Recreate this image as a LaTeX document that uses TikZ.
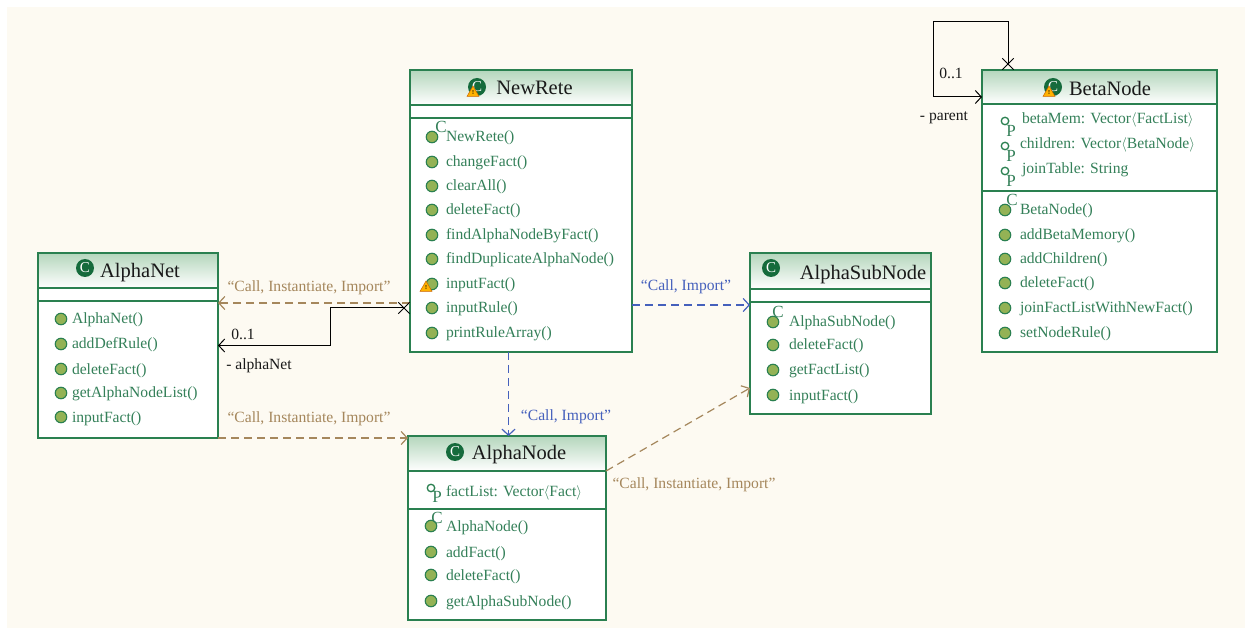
\documentclass[tikz,border=0pt]{standalone}
\usepackage{fontspec}
\setmainfont{Liberation Serif}
\usetikzlibrary{positioning,arrows.meta,shapes.geometric}

\definecolor{cream}{HTML}{FDFAF2}
\definecolor{boxgreen}{HTML}{2A8050}
\definecolor{textgreen}{HTML}{348059}
\definecolor{dotgreen}{HTML}{93B255}
\definecolor{headgreen}{HTML}{B4D6BC}
\definecolor{icongreen}{HTML}{156B3C}
\definecolor{tanline}{HTML}{A5875C}
\definecolor{blueline}{HTML}{4560BC}

\begin{document}
\begin{tikzpicture}[x=1pt, y=-1pt,
  nodes = {inner sep=0pt, outer sep=0pt},
  classbox/.style = {draw=boxgreen, line width=1.3pt, fill=white, anchor=north west},
  headbox/.style = {draw=boxgreen, line width=1.3pt, anchor=north west,
    top color=headgreen, bottom color=white},
  title/.style = {font=\fontsize{20.5}{24}\selectfont, text=black!90},
  member/.style = {anchor=west, font=\fontsize{15.6}{17}\selectfont, text=textgreen,
    text height=10pt, text depth=0pt},
  dot/.style = {circle, draw=boxgreen, line width=1.1pt, fill=dotgreen, minimum size=11.5pt},
  fielddot/.style = {circle, draw=boxgreen, line width=1.3pt, fill=white, minimum size=7.5pt},
  sup/.style = {font=\fontsize{17}{18}\selectfont, text=textgreen},
  iconc/.style = {circle, fill=icongreen, text=white, minimum size=18pt,
    font=\fontsize{15}{15}\selectfont},
  warn/.style = {regular polygon, regular polygon sides=3, draw=orange!80!black, line width=.5pt,
    fill=orange!60!yellow, minimum size=14pt, font=\fontsize{6}{6}\selectfont\bfseries},
  sepline/.style = {draw=boxgreen, line width=1.3pt},
  lab/.style = {font=\fontsize{15.6}{17}\selectfont},
  tanlab/.style = {lab, text=tanline},
  bluelab/.style = {lab, text=blueline},
  blacklab/.style = {lab, text=black!90},
  tandep/.style = {draw=tanline, line width=1.2pt, dash pattern=on 8pt off 5pt,
    -{Straight Barb[length=6pt,width=13pt]}},
  bluedep/.style = {draw=blueline, line width=1.2pt, dash pattern=on 8pt off 5pt,
    -{Straight Barb[length=6pt,width=13pt]}},
  assoc/.style = {draw=black, line width=1pt,
    {Rays[n=4,length=16pt,width=16pt]}-{Straight Barb[length=6pt,width=13pt]}}
  ]
  \useasboundingbox (0,0) rectangle (1251,628);
  \fill [cream] (7,7) rectangle (1245,628);

  % NewRete
  \node (rete) [classbox, minimum width=222pt, minimum height=282pt] at (410,70) {};
  \node (reteHead) [headbox, minimum width=222pt, minimum height=35pt] at (410,70) {};
  \draw [sepline] (410,118) -- (632,118);
  \node (reteIcon) [iconc] at (477,87) {C};
  \node (reteWarn) [warn] at (473,93) {!};
  \node (reteName) [title] at (534.5,88) {NewRete};
  \foreach \y/\txt in {137/NewRete(),162/changeFact(),186/clearAll(),210/deleteFact(),
      235/findAlphaNodeByFact(),259/findDuplicateAlphaNode(),284/inputFact(),
      308/inputRule(),333/printRuleArray()} {
    \node (reteDot\y) [dot] at (432,\y) {};
    \node (reteTxt\y) [member] at (446,\y) {\txt};
  }
  \node (reteCtor) [sup] at (441,127) {C};
  \node (inputWarn) [warn] at (426,288) {!};

  % AlphaNet
  \node (net) [classbox, minimum width=180pt, minimum height=185pt] at (38,253) {};
  \node (netHead) [headbox, minimum width=180pt, minimum height=35pt] at (38,253) {};
  \draw [sepline] (38,301) -- (218,301);
  \node (netIcon) [iconc] at (85,268) {C};
  \node (netName) [title] at (140,273) {AlphaNet};
  \foreach \y/\txt in {319/AlphaNet(),344/addDefRule(),369/deleteFact(),
      393/getAlphaNodeList(),417/inputFact()} {
    \node (netDot\y) [dot] at (61,\y) {};
    \node (netTxt\y) [member] at (72,\y) {\txt};
  }

  % AlphaNode
  \node (anode) [classbox, minimum width=198pt, minimum height=184pt] at (408,436) {};
  \node (anodeHead) [headbox, minimum width=198pt, minimum height=35pt] at (408,436) {};
  \draw [sepline] (408,509) -- (606,509);
  \node (anodeIcon) [iconc] at (455,452) {C};
  \node (anodeName) [title] at (519,454.5) {AlphaNode};
  \node (anodeDot) [fielddot] at (431,488) {};
  \node (anodeP) [sup] at (437,497) {P};
  \node (anodeFact) [member] at (446,491) {factList: Vector$\langle$Fact$\rangle$};
  \foreach \y/\txt in {526/AlphaNode(),552/addFact(),575/deleteFact(),601/getAlphaSubNode()} {
    \node (anodeDot\y) [dot] at (431,\y) {};
    \node (anodeTxt\y) [member] at (446,\y) {\txt};
  }
  \node (anodeCtor) [sup] at (437,518) {C};

  % AlphaSubNode
  \node (sub) [classbox, minimum width=181pt, minimum height=161pt] at (750,253) {};
  \node (subHead) [headbox, minimum width=181pt, minimum height=36pt] at (750,253) {};
  \draw [sepline] (750,302) -- (931,302);
  \node (subIcon) [iconc] at (771,268) {C};
  \node (subName) [title] at (863,275) {AlphaSubNode};
  \foreach \y/\txt in {322/AlphaSubNode(),345/deleteFact(),370/getFactList(),395/inputFact()} {
    \node (subDot\y) [dot] at (773,\y) {};
    \node (subTxt\y) [member] at (789,\y) {\txt};
  }
  \node (subCtor) [sup] at (778,312) {C};

  % BetaNode
  \node (beta) [classbox, minimum width=235pt, minimum height=282pt] at (982,70) {};
  \node (betaHead) [headbox, minimum width=235pt, minimum height=34pt] at (982,70) {};
  \draw [sepline] (982,191) -- (1217,191);
  \node (betaIcon) [iconc] at (1053,87) {C};
  \node (betaWarn) [warn] at (1049,93) {!};
  \node (betaName) [title] at (1110,88) {BetaNode};
  \foreach \y/\xx/\txt in {119/1022/{betaMem: Vector$\langle$FactList$\rangle$},
      144/1020/{children: Vector$\langle$BetaNode$\rangle$},169/1022/{joinTable: String}} {
    \node (betaDot\y) [fielddot] at (1005,\y+2) {};
    \node (betaP\y) [sup] at (1011,\y+12) {P};
    \node (betaTxt\y) [member] at (\xx,\y) {\txt};
  }
  \foreach \y/\txt in {210/BetaNode(),235/addBetaMemory(),259/addChildren(),283/deleteFact(),
      308/joinFactListWithNewFact(),333/setNodeRule()} {
    \node (betaDot\y) [dot] at (1005,\y) {};
    \node (betaTxt\y) [member] at (1020,\y) {\txt};
  }
  \node (betaCtor) [sup] at (1012,200) {C};

  % connectors
  \draw [tandep] ([yshift=-92pt]rete.west) -- ([yshift=42.5pt]net.east);
  \draw [assoc] ([yshift=-97pt]rete.west) -- ++(-80,0) |- (net.east);
  \draw [bluedep] ([yshift=-94pt]rete.east) -- ([yshift=28.5pt]sub.west);
  \draw [bluedep] ([xshift=-12.5pt]rete.south) -- ([xshift=1.5pt]anode.north);
  \draw [tandep] (net.south east) -- ([yshift=90pt]anode.west);
  \draw [tandep] ([yshift=57pt]anode.east) -- ([yshift=-54.5pt]sub.west);
  \draw [assoc] ([xshift=-91.5pt]beta.north) -- ++(0,-48) -- ++(-75,0) |- ([yshift=114pt]beta.west);

  % labels
  \node (lblNetA) [tanlab] at (309,288) {“Call, Instantiate, Import”};
  \node (lblNetB) [tanlab] at (309,419) {“Call, Instantiate, Import”};
  \node (lblNode) [tanlab] at (694,485) {“Call, Instantiate, Import”};
  \node (lblSub) [bluelab] at (686,287) {“Call, Import”};
  \node (lblDown) [bluelab] at (566,417) {“Call, Import”};
  \node (lblNetMul) [blacklab] at (243,334) {0..1};
  \node (lblNetRole) [blacklab] at (259,366) {- alphaNet};
  \node (lblBetaMul) [blacklab] at (951,73) {0..1};
  \node (lblBetaRole) [blacklab] at (944,118) {- parent};
\end{tikzpicture}
\end{document}
